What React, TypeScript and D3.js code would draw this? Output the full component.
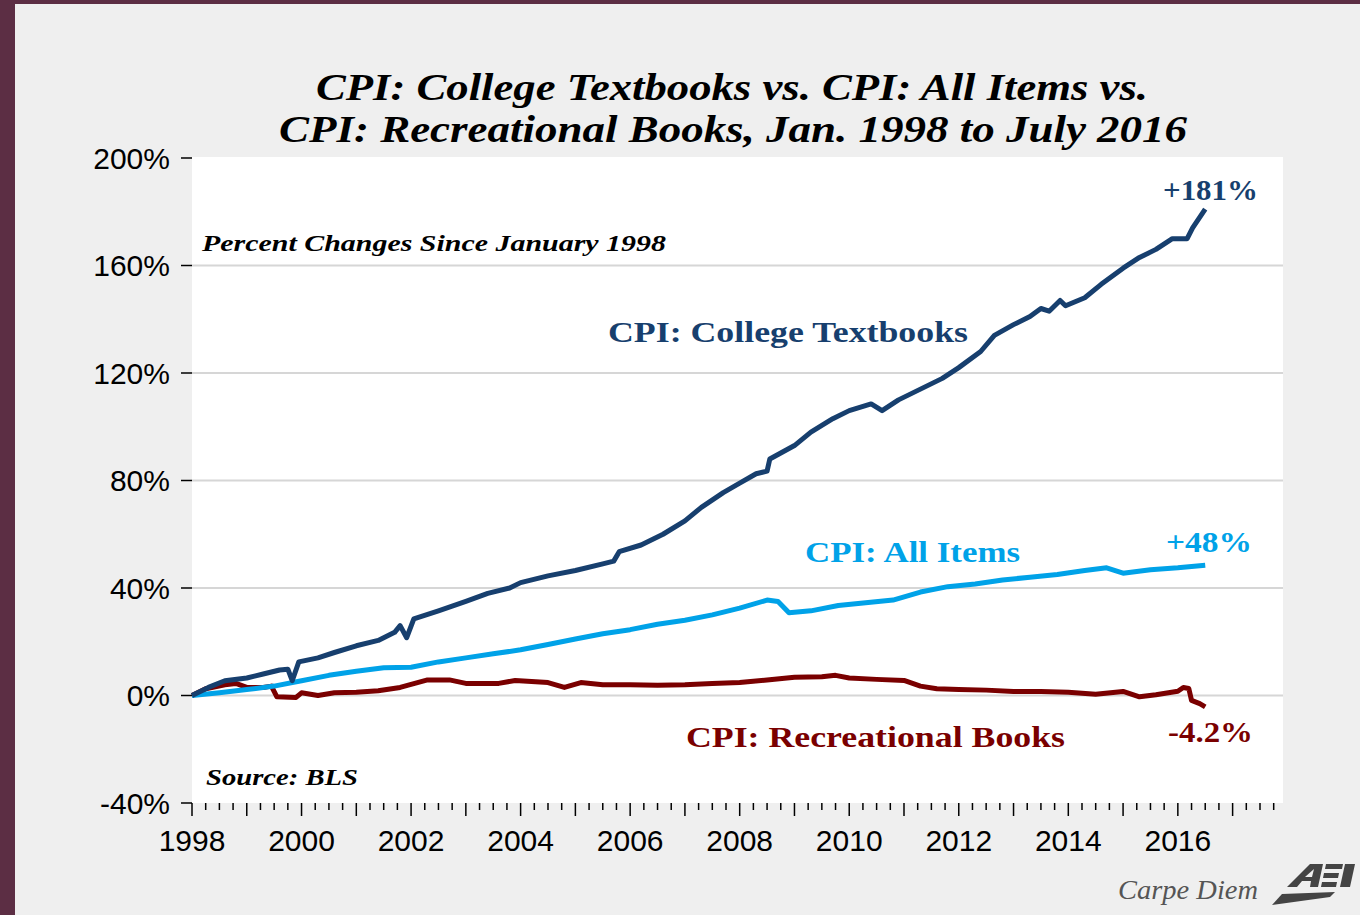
import React from "react";
import * as d3 from "d3";

// [year, % change since Jan 1998]
const textbooks: [number, number][] = [
  [1998.0, 0], [1998.3, 3], [1998.6, 5.5], [1999.0, 6.5], [1999.3, 8], [1999.6, 9.5],
  [1999.75, 9.8], [1999.83, 5.5], [1999.95, 12.5], [2000.3, 14], [2000.6, 16], [2001.0, 18.5],
  [2001.4, 20.5], [2001.7, 23.5], [2001.8, 26], [2001.92, 21.5], [2002.05, 28.5], [2002.5, 31.5],
  [2003.0, 35], [2003.4, 38], [2003.8, 40], [2004.0, 42], [2004.5, 44.5], [2005.0, 46.5],
  [2005.5, 49], [2005.7, 50], [2005.8, 53.5], [2006.2, 56], [2006.6, 60], [2007.0, 65],
  [2007.3, 70], [2007.7, 75.5], [2008.0, 79], [2008.3, 82.5], [2008.5, 83.5], [2008.55, 88],
  [2009.0, 93], [2009.3, 98], [2009.7, 103], [2010.0, 106], [2010.4, 108.5], [2010.6, 106],
  [2010.9, 110], [2011.3, 114], [2011.7, 118], [2012.0, 122], [2012.4, 128], [2012.65, 134],
  [2013.0, 138], [2013.3, 141], [2013.5, 144], [2013.65, 143], [2013.85, 147], [2013.95, 145],
  [2014.3, 148], [2014.6, 153], [2015.0, 159], [2015.3, 163], [2015.6, 166], [2015.9, 170],
  [2016.17, 170], [2016.27, 174], [2016.5, 181],
];

const allItems: [number, number][] = [
  [1998.0, 0], [1998.5, 1], [1999.0, 2.2], [1999.5, 3.5], [2000.0, 5.5], [2000.5, 7.5],
  [2001.0, 9], [2001.5, 10.3], [2002.0, 10.5], [2002.5, 12.5], [2003.0, 14], [2003.5, 15.5],
  [2004.0, 17], [2004.5, 19], [2005.0, 21], [2005.5, 23], [2006.0, 24.5], [2006.5, 26.5],
  [2007.0, 28], [2007.5, 30], [2008.0, 32.5], [2008.5, 35.5], [2008.7, 35], [2008.9, 30.8],
  [2009.3, 31.5], [2009.8, 33.5], [2010.3, 34.5], [2010.8, 35.5], [2011.3, 38.5], [2011.8, 40.5],
  [2012.3, 41.5], [2012.8, 43], [2013.3, 44], [2013.8, 45], [2014.3, 46.5], [2014.7, 47.5],
  [2015.0, 45.5], [2015.5, 46.8], [2016.0, 47.5], [2016.5, 48.5],
];

const recBooks: [number, number][] = [
  [1998.0, 0], [1998.25, 2.5], [1998.6, 4], [1998.8, 4.5], [1999.0, 3], [1999.3, 3],
  [1999.45, 3.5], [1999.55, -0.5], [1999.9, -0.7], [2000.0, 1], [2000.3, 0], [2000.6, 1],
  [2001.0, 1.2], [2001.4, 1.8], [2001.8, 3], [2002.3, 5.8], [2002.7, 5.8], [2003.0, 4.5],
  [2003.6, 4.5], [2003.9, 5.6], [2004.5, 4.8], [2004.8, 3], [2005.1, 4.8], [2005.5, 4],
  [2006.0, 4], [2006.5, 3.8], [2007.0, 4], [2007.5, 4.5], [2008.0, 4.8], [2008.5, 5.8],
  [2009.0, 6.8], [2009.5, 7], [2009.75, 7.5], [2010.0, 6.5], [2010.5, 6], [2011.0, 5.6],
  [2011.3, 3.5], [2011.6, 2.5], [2012.0, 2.2], [2012.5, 2], [2013.0, 1.5], [2013.5, 1.5],
  [2014.0, 1.2], [2014.5, 0.5], [2015.0, 1.5], [2015.3, -0.5], [2015.6, 0.3], [2016.0, 1.6],
  [2016.1, 3], [2016.2, 2.6], [2016.25, -1.8], [2016.4, -3], [2016.5, -4.2],
];

const yTicks = [-40, 0, 40, 80, 120, 160, 200];
const gridValues = [0, 40, 80, 120, 160];
const yearLabels = [1998, 2000, 2002, 2004, 2006, 2008, 2010, 2012, 2014, 2016];

const C_TEXT = "#173f6e";
const C_ALL = "#00a2e8";
const C_REC = "#7a0000";
const SERIF = "'Liberation Serif', 'DejaVu Serif', serif";
const SANS = "'Liberation Sans', Arial, sans-serif";

export default function App() {
  const x = d3.scaleLinear().domain([1998, 2017.92]).range([192, 1283]);
  const y = d3.scaleLinear().domain([-40, 200]).range([803, 158]);
  const line = d3
    .line<[number, number]>()
    .x((d) => x(d[0]))
    .y((d) => y(d[1]));

  const quarterTicks = d3.range(0, 80).map((i) => 1998 + i * 0.25);

  return (
    <svg
      width={1360}
      height={915}
      style={{ position: "absolute", left: 0, top: 0, display: "block" }}
    >
      <rect x={0} y={0} width={1360} height={915} fill="#5c2e44" />
      <rect x={15} y={4} width={1345} height={911} fill="#efefef" />

      {/* title */}
      <text x={732} y={100} textAnchor="middle" fontFamily={SERIF} fontWeight="bold"
        fontStyle="italic" fontSize={38} textLength={832} lengthAdjust="spacingAndGlyphs">
        CPI: College Textbooks vs. CPI: All Items vs.
      </text>
      <text x={733} y={142} textAnchor="middle" fontFamily={SERIF} fontWeight="bold"
        fontStyle="italic" fontSize={38} textLength={908} lengthAdjust="spacingAndGlyphs">
        CPI: Recreational Books, Jan. 1998 to July 2016
      </text>

      {/* plot area */}
      <rect x={192} y={157} width={1091} height={646} fill="#ffffff" />
      {gridValues.map((v) => (
        <line key={v} x1={192} x2={1283} y1={y(v)} y2={y(v)} stroke="#d6d6d6" strokeWidth={2} />
      ))}

      {/* y axis */}
      {yTicks.map((v) => (
        <g key={v}>
          <line x1={181} x2={192} y1={y(v)} y2={y(v)} stroke="#000" strokeWidth={1.5} />
          <text x={170} y={y(v) + 10.5} textAnchor="end" fontFamily={SANS} fontSize={30}>
            {v}%
          </text>
        </g>
      ))}

      {/* x axis */}
      {quarterTicks.map((t, i) => (
        <line key={i} x1={x(t)} x2={x(t)} y1={803} y2={i % 4 === 0 ? 816 : 810}
          stroke="#000" strokeWidth={1.5} />
      ))}
      {yearLabels.map((yr) => (
        <text key={yr} x={x(yr)} y={851} textAnchor="middle" fontFamily={SANS} fontSize={30}>
          {yr}
        </text>
      ))}

      {/* series */}
      <path d={line(recBooks) || ""} fill="none" stroke={C_REC} strokeWidth={5} strokeLinejoin="round" />
      <path d={line(allItems) || ""} fill="none" stroke={C_ALL} strokeWidth={5} strokeLinejoin="round" />
      <path d={line(textbooks) || ""} fill="none" stroke={C_TEXT} strokeWidth={5} strokeLinejoin="round" />

      {/* annotations */}
      <text x={202} y={251} fontFamily={SERIF} fontWeight="bold" fontStyle="italic" fontSize={24}
        textLength={464} lengthAdjust="spacingAndGlyphs">
        Percent Changes Since January 1998
      </text>
      <text x={206} y={785} fontFamily={SERIF} fontWeight="bold" fontStyle="italic" fontSize={24}
        textLength={152} lengthAdjust="spacingAndGlyphs">
        Source: BLS
      </text>
      <text x={608} y={342} fontFamily={SERIF} fontWeight="bold" fontSize={30} fill={C_TEXT}
        textLength={360} lengthAdjust="spacingAndGlyphs">
        CPI: College Textbooks
      </text>
      <text x={805} y={562} fontFamily={SERIF} fontWeight="bold" fontSize={30} fill={C_ALL}
        textLength={215} lengthAdjust="spacingAndGlyphs">
        CPI: All Items
      </text>
      <text x={686} y={747} fontFamily={SERIF} fontWeight="bold" fontSize={30} fill={C_REC}
        textLength={379} lengthAdjust="spacingAndGlyphs">
        CPI: Recreational Books
      </text>
      <text x={1163} y={200} fontFamily={SERIF} fontWeight="bold" fontSize={30} fill={C_TEXT}
        textLength={95} lengthAdjust="spacingAndGlyphs">
        +181%
      </text>
      <text x={1166} y={552} fontFamily={SERIF} fontWeight="bold" fontSize={30} fill={C_ALL}
        textLength={86} lengthAdjust="spacingAndGlyphs">
        +48%
      </text>
      <text x={1168} y={742} fontFamily={SERIF} fontWeight="bold" fontSize={30} fill={C_REC}
        textLength={85} lengthAdjust="spacingAndGlyphs">
        -4.2%
      </text>

      {/* footer */}
      <text x={1118} y={899} fontFamily={SERIF} fontStyle="italic" fontSize={28} fill="#555"
        textLength={140} lengthAdjust="spacingAndGlyphs">
        Carpe Diem
      </text>
      <g fill="#444">
        <path d="M1287,887 L1310,864 L1323,864 L1318,887 L1310,887 L1311,881 L1302,881 L1297,887 Z" />
        <path d="M1305,877 L1312,877 L1314,869 Z" fill="#efefef" />
        <path d="M1326,864 L1343,864 L1342,869 L1325,869 Z" />
        <path d="M1324,873 L1339,873 L1338,878 L1323,878 Z" />
        <path d="M1322,882 L1337,882 L1336,887 L1321,887 Z" />
        <path d="M1345,864 L1355,864 L1350,887 L1340,887 Z" />
        <path d="M1272,905 L1282,894 L1335,892 L1330,897 Z" />
      </g>
    </svg>
  );
}
